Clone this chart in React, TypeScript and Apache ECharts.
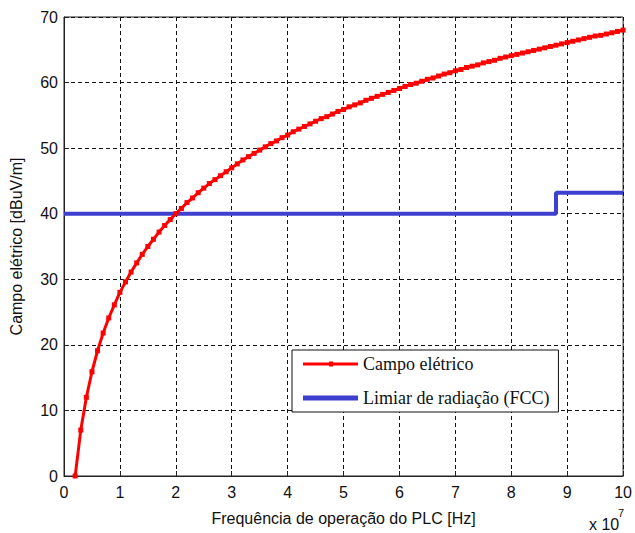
import React, { useEffect, useRef } from "react";
import * as echarts from "echarts";

// Frequency in MHz (sample points of the red curve)
const freqMHz: number[] = [
  2, 3, 4, 5, 6, 7, 8, 9, 10, 11, 12, 13, 14, 15, 16, 17, 18, 19, 20,
  21, 22, 23, 24, 25, 26, 27, 28, 29, 30, 31, 32, 33, 34, 35, 36, 37, 38, 39, 40,
  41, 42, 43, 44, 45, 46, 47, 48, 49, 50, 51, 52, 53, 54, 55, 56, 57, 58, 59, 60,
  61, 62, 63, 64, 65, 66, 67, 68, 69, 70, 71, 72, 73, 74, 75, 76, 77, 78, 79, 80,
  81, 82, 83, 84, 85, 86, 87, 88, 89, 90, 91, 92, 93, 94, 95, 96, 97, 98, 99, 100,
];
// Campo elétrico [dBuV/m]
const campoEletrico: number[] = [
  0, 7.0, 12.0, 15.9, 19.1, 21.8, 24.1, 26.1, 28.0, 29.6, 31.1, 32.5, 33.8, 35.0, 36.1, 37.2, 38.2, 39.1, 40.0,
  40.8, 41.7, 42.4, 43.2, 43.9, 44.6, 45.2, 45.8, 46.4, 47.0, 47.6, 48.2, 48.7, 49.2, 49.7, 50.2, 50.7, 51.1, 51.6, 52.0,
  52.5, 52.9, 53.3, 53.7, 54.1, 54.5, 54.8, 55.2, 55.6, 55.9, 56.3, 56.6, 56.9, 57.3, 57.6, 57.9, 58.2, 58.5, 58.8, 59.1,
  59.4, 59.7, 59.9, 60.2, 60.5, 60.7, 61.0, 61.3, 61.5, 61.8, 62.0, 62.3, 62.5, 62.7, 63.0, 63.2, 63.4, 63.7, 63.9, 64.1,
  64.3, 64.5, 64.7, 64.9, 65.1, 65.3, 65.5, 65.7, 65.9, 66.1, 66.3, 66.5, 66.7, 66.9, 67.1, 67.2, 67.4, 67.6, 67.8, 68.0,
];
// Limiar de radiação (FCC): step points
const limiarFreqMHz: number[] = [0, 88, 88, 100];
const limiarValues: number[] = [40, 40, 43.2, 43.2];

const xTicks: number[] = [0, 1, 2, 3, 4, 5, 6, 7, 8, 9, 10];
const yTicks: number[] = [0, 10, 20, 30, 40, 50, 60, 70];

export default function App() {
  const ref = useRef<HTMLDivElement>(null);
  useEffect(() => {
    if (!ref.current) return;
    const chart = echarts.init(ref.current, undefined, { renderer: "svg" });
    const sans = "'Liberation Sans', Arial, sans-serif";
    const serif = "'Liberation Serif', 'Times New Roman', serif";
    const redData = freqMHz.map((f, i) => [f * 1e6, campoEletrico[i]]);
    const blueData = limiarFreqMHz.map((f, i) => [f * 1e6, limiarValues[i]]);
    chart.setOption({
      animation: false,
      backgroundColor: "#fff",
      grid: {
        left: 63,
        right: 8,
        top: 17,
        bottom: 57,
        show: true,
        borderColor: "#222",
        borderWidth: 1,
      },
      xAxis: {
        type: "value",
        min: 0,
        max: 1e8,
        interval: 1e7,
        name: "Frequência de operação do PLC [Hz]",
        nameLocation: "middle",
        nameGap: 34,
        nameTextStyle: { fontFamily: sans, fontSize: 16, color: "#111" },
        axisLine: { lineStyle: { color: "#222", width: 1 } },
        axisTick: { inside: true, length: 5, lineStyle: { color: "#222" } },
        axisLabel: {
          fontFamily: sans,
          fontSize: 16,
          color: "#111",
          margin: 8,
          formatter: (v: number) => {
            const t = Math.round(v / 1e7);
            return xTicks.includes(t) ? String(t) : "";
          },
        },
        splitLine: { show: true, lineStyle: { color: "#111", type: [4, 3], width: 1 } },
      },
      yAxis: {
        type: "value",
        min: 0,
        max: 70,
        interval: 10,
        name: "Campo elétrico [dBuV/m]",
        nameLocation: "middle",
        nameGap: 40,
        nameTextStyle: { fontFamily: sans, fontSize: 16, color: "#111" },
        axisLine: { show: true, lineStyle: { color: "#222", width: 1 } },
        axisTick: { show: true, inside: true, length: 5, lineStyle: { color: "#222" } },
        axisLabel: {
          fontFamily: sans,
          fontSize: 16,
          color: "#111",
          margin: 6,
          formatter: (v: number) => (yTicks.includes(v) ? String(v) : ""),
        },
        splitLine: { show: true, lineStyle: { color: "#111", type: [4, 3], width: 1 } },
      },
      legend: {
        orient: "vertical",
        left: 292,
        top: 350,
        padding: [4, 9, 4, 11],
        itemWidth: 55,
        itemHeight: 5,
        itemGap: 14,
        symbolKeepAspect: false,
        backgroundColor: "#fff",
        borderColor: "#111",
        borderWidth: 1,
        textStyle: { fontFamily: serif, fontSize: 18, color: "#111", lineHeight: 20 },
        data: [
          {
            name: "Campo elétrico",
            icon: "path://M0 1 H55 V4 H0 Z M26 0 H30 V5 H26 Z",
            itemStyle: { color: "#ff0000" },
          },
          {
            name: "Limiar de radiação (FCC)",
            icon: "path://M0 0 H55 V5 H0 Z",
            itemStyle: { color: "#3f3fcf" },
          },
        ],
      },
      graphic: [
        {
          type: "text",
          x: 589,
          y: 516,
          style: { text: "x 10", fontFamily: sans, fontSize: 16, fill: "#111" },
        },
        {
          type: "text",
          x: 618,
          y: 507,
          style: { text: "7", fontFamily: sans, fontSize: 11, fill: "#111" },
        },
      ],
      series: [
        {
          name: "Campo elétrico",
          type: "line",
          data: redData,
          z: 3,
          color: "#ff0000",
          lineStyle: { color: "#ff0000", width: 3 },
          symbol: "rect",
          symbolSize: 5,
          showAllSymbol: true,
          itemStyle: { color: "#ff0000" },
        },
        {
          name: "Limiar de radiação (FCC)",
          type: "line",
          data: blueData,
          z: 2,
          color: "#3f3fcf",
          lineStyle: { color: "#3f3fcf", width: 4 },
          symbol: "none",
          itemStyle: { color: "#3f3fcf" },
        },
      ],
    });
    return () => chart.dispose();
  }, []);
  return (
    <div
      ref={ref}
      style={{ position: "fixed", left: 0, top: 0, width: 635, height: 533, background: "#fff" }}
    />
  );
}
